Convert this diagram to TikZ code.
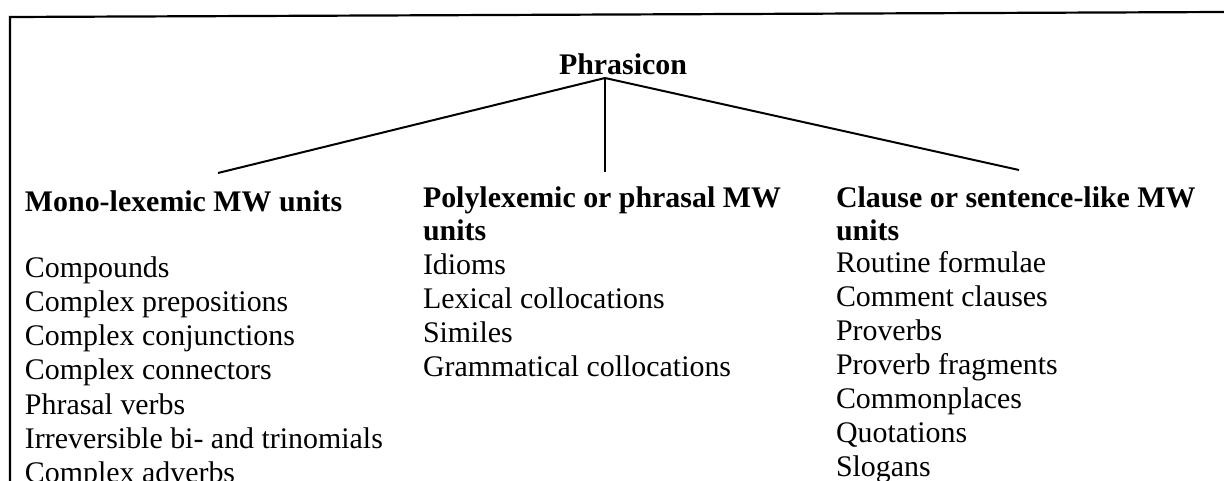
\documentclass[tikz,border=0pt]{standalone}
\usepackage{fontspec}
\setmainfont{Liberation Serif}
\begin{document}
\begin{tikzpicture}[x=0.5pt,y=-0.5pt,
  txt/.style={inner sep=0pt,outer sep=0pt,anchor=base west,font=\fontsize{14.95}{17}\selectfont},
  head/.style={txt,font=\fontsize{14.95}{17}\selectfont\bfseries},
  branch/.style={line width=1pt},
  frameline/.style={line width=1.1pt}]
\useasboundingbox (0,0) rectangle (1224,481);
% open frame: top rule and left rule
\coordinate (ftl) at (10,17);
\coordinate (ftr) at (1224,12);
\coordinate (fbl) at (10,481);
\draw[frameline] (fbl) -- (ftl) -- (ftr);
% root
\node[head] (phr) at (559,75) {Phrasicon};
\coordinate (apex) at (605,78);
% column headings
\node[head] (mono) at (25,211) {Mono-lexemic MW units};
\node[head] (poly) at (423,207) {Polylexemic or phrasal MW};
\node[head] (polyb) at (423,240) {units};
\node[head] (clause) at (836,207) {Clause or sentence-like MW};
\node[head] (clauseb) at (836,240) {units};
% branch ends
\coordinate (monoend) at (218,173);
\coordinate (polyend) at (605,172);
\coordinate (clauseend) at (1019,170);
\draw[branch] (apex) -- (monoend);
\draw[branch] (apex) -- (polyend);
\draw[branch] (apex) -- (clauseend);
% item lists
\foreach \t [count=\i] in {Compounds,Complex prepositions,Complex conjunctions,Complex connectors,Phrasal verbs,Irreversible bi- and trinomials,Complex adverbs}
  \node[txt] (m\i) at (25,{277+34.3*(\i-1)}) {\t};
\foreach \t [count=\i] in {Idioms,Lexical collocations,Similes,Grammatical collocations}
  \node[txt] (p\i) at (423,{274+34*(\i-1)}) {\t};
\foreach \t [count=\i] in {Routine formulae,Comment clauses,Proverbs,Proverb fragments,Commonplaces,Quotations,Slogans}
  \node[txt] (c\i) at (836,{272+34.1*(\i-1)}) {\t};
\end{tikzpicture}
\end{document}
